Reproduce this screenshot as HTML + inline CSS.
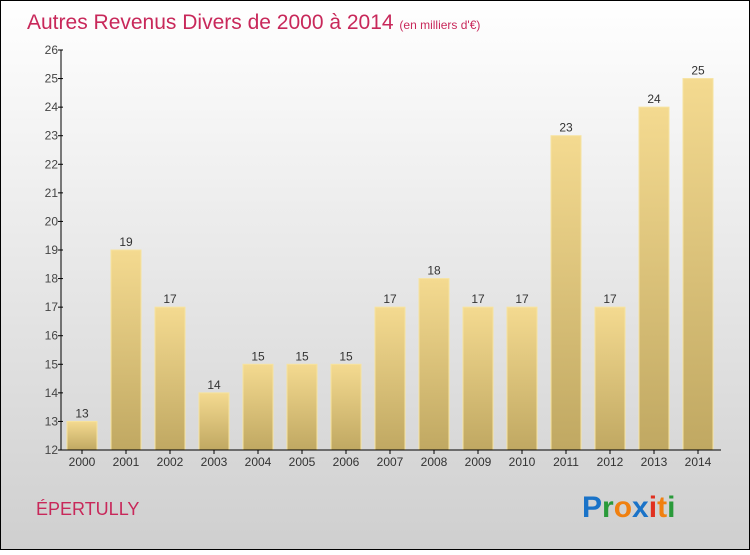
<!DOCTYPE html>
<html><head><meta charset="utf-8"><style>
body{margin:0}
svg text{font-family:"Liberation Sans",sans-serif}
</style></head><body>
<svg width="750" height="550" viewBox="0 0 750 550" xmlns="http://www.w3.org/2000/svg">
<defs>
<linearGradient id="bg" x1="0" y1="0" x2="0" y2="1"><stop offset="0" stop-color="#ffffff"/><stop offset="1" stop-color="#cfcfcf"/></linearGradient>
<linearGradient id="bar" x1="0" y1="0" x2="0" y2="1"><stop offset="0" stop-color="#f4da90"/><stop offset="1" stop-color="#c0a862"/></linearGradient>
</defs>
<rect x="0.5" y="0.5" width="749" height="549" fill="url(#bg)" stroke="#000"/>
<text x="27" y="29" font-size="21" fill="#c8285a">Autres Revenus Divers de 2000 à 2014 <tspan font-size="12">(en milliers d'€)</tspan></text>
<g id="yaxis"></g>
<g id="bars"></g>
<g id="xaxis"></g>
<text x="36" y="515" font-size="18" fill="#c8285a">ÉPERTULLY</text>
<g font-size="30" font-weight="bold" font-family="Liberation Sans">
<text x="582" y="517"><tspan fill="#1a73c8">P</tspan><tspan fill="#2a9a3a">r</tspan><tspan fill="#f08010">o</tspan><tspan fill="#1a73c8">x</tspan><tspan fill="#e03020">i</tspan><tspan fill="#f08010">t</tspan><tspan fill="#2a9a3a">i</tspan></text>
</g>
</svg>
<script>
const years=["2000","2001","2002","2003","2004","2005","2006","2007","2008","2009","2010","2011","2012","2013","2014"];
const values=[13,19,17,14,15,15,15,17,18,17,17,23,17,24,25];
const yTicks=[12,13,14,15,16,17,18,19,20,21,22,23,24,25,26];
const NS="http://www.w3.org/2000/svg";
const x0=61,x1=721,yMin=12,yMax=26,plotTop=50,plotBot=450;
const y=v=>plotBot-(v-yMin)/(yMax-yMin)*(plotBot-plotTop);
const step=44,bw=30;
const xc=i=>82+i*step;
function mk(t,a,p){const e=document.createElementNS(NS,t);for(const k in a)e.setAttribute(k,a[k]);p.appendChild(e);return e;}
const ya=document.getElementById('yaxis'),ba=document.getElementById('bars'),xa=document.getElementById('xaxis');
const yl=mk('line',{x1:x0,y1:plotTop,x2:x0,y2:plotBot,stroke:'#000'},ya);


yTicks.forEach(v=>{
 const t=mk('line',{x1:x0-3,y1:y(v),x2:x0+2,y2:y(v),stroke:'#000'},ya);
 
 
 const l=mk('text',{x:x0-3,y:y(v)+4,'font-size':12,fill:'#444','text-anchor':'end'},ya);
 
 
 l.textContent=v;
});
values.forEach((v,i)=>{
 const r=mk('rect',{x:xc(i)-bw/2,y:y(v),width:bw,height:plotBot-y(v),fill:'url(#bar)',stroke:'#f6e3a0','stroke-width':1},ba);
 
 
 const l=mk('text',{x:xc(i),y:y(v)-4,'font-size':12,fill:'#333','text-anchor':'middle'},ba);
 
 
 l.textContent=v;
 const t=mk('line',{x1:xc(i),y1:plotBot,x2:xc(i),y2:plotBot+4,stroke:'#000'},xa);
 
 
 const xl=mk('text',{x:xc(i),y:plotBot+16,'font-size':12,fill:'#333','text-anchor':'middle'},xa);
 
 
 xl.textContent=years[i];
});
const xl=mk('line',{x1:x0,y1:plotBot,x2:x1,y2:plotBot,stroke:'#000'},xa);


</script>
</body></html>
